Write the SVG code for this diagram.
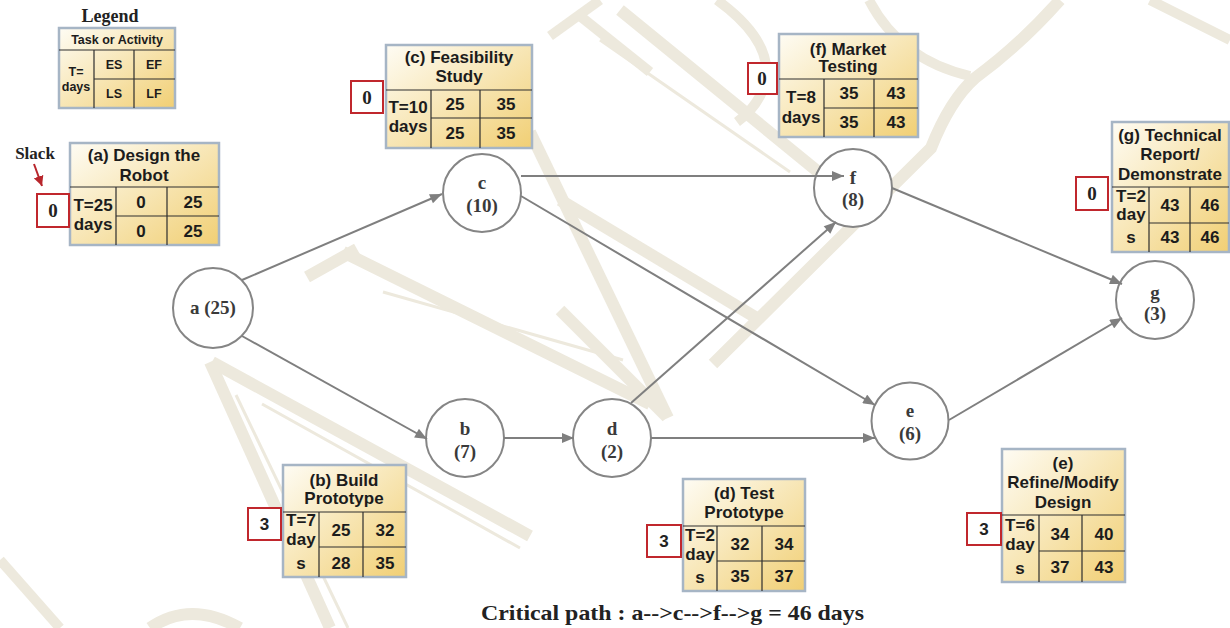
<svg xmlns="http://www.w3.org/2000/svg" width="1230" height="628" viewBox="0 0 1230 628">
  <defs>
    <linearGradient id="cellFill" x1="0" y1="0" x2="1" y2="1">
      <stop offset="0" stop-color="#fefcf4"/>
      <stop offset="0.45" stop-color="#f8e8bb"/>
      <stop offset="1" stop-color="#f1cf74"/>
    </linearGradient>
    <marker id="ah" viewBox="0 0 12 10" refX="12" refY="5" markerWidth="13" markerHeight="10" orient="auto" markerUnits="userSpaceOnUse">
      <path d="M0,0 L12,5 L0,10 z" fill="#7f7f7f"/>
    </marker>
    <marker id="redHead" viewBox="0 0 10 10" refX="10" refY="5" markerWidth="10" markerHeight="10" orient="auto" markerUnits="userSpaceOnUse">
      <path d="M0,0 L10,5 L0,10 z" fill="#b8262c"/>
    </marker>
  </defs>
  <style>
    .wm { fill: none; stroke: #ede9dd; stroke-linecap: butt; }
    .box { fill: url(#cellFill); stroke: #a6b5c5; stroke-width: 2.5; }
    .grid { stroke: #2e2e2e; stroke-width: 1.2; fill: none; }
    .t { font-family: "Liberation Sans", Arial, sans-serif; font-weight: bold; font-size: 17px; fill: #1c1c1c; text-anchor: middle; }
    .lg { font-family: "Liberation Sans", Arial, sans-serif; font-weight: bold; font-size: 12.5px; fill: #1c1c1c; text-anchor: middle; }
    .slack { fill: #ffffff; stroke: #c0272d; stroke-width: 2; }
    .sv { font-family: "Liberation Serif", "Times New Roman", serif; font-weight: bold; font-size: 19px; fill: #222; text-anchor: middle; }
    .ss { font-family: "Liberation Sans", Arial, sans-serif; font-weight: bold; font-size: 17px; fill: #222; text-anchor: middle; }
    .node { fill: #ffffff; stroke: #858585; stroke-width: 2; }
    .nl { font-family: "Liberation Serif", "Times New Roman", serif; font-weight: bold; font-size: 19px; fill: #3a3a3a; text-anchor: middle; }
    .edge { stroke: #7f7f7f; stroke-width: 2; fill: none; marker-end: url(#ah); }
    .serifb { font-family: "Liberation Serif", "Times New Roman", serif; font-weight: bold; fill: #222; }
  </style>

  <rect width="1230" height="628" fill="#ffffff"/>

  <!-- faint background lettering strokes -->
  <g id="watermark">
    <path class="wm" stroke-width="12" d="M210,362 L330,628"/>
    <path class="wm" stroke-width="3" d="M236,395 L348,628"/>
    <path class="wm" stroke-width="12" d="M212,362 L530,536"/>
    <path class="wm" stroke-width="3" d="M262,404 L520,548"/>
    <path class="wm" stroke-width="12" d="M307,277 L357,249"/>
    <path class="wm" stroke-width="12" d="M343,252 L650,404"/>
    <path class="wm" stroke-width="3" d="M383,292 L623,360"/>
    <path class="wm" stroke-width="12" d="M530,132 L668,418"/>
    <path class="wm" stroke-width="12" d="M560,310 L667,417"/>
    <path class="wm" stroke-width="12" d="M560,200 L760,320"/>
    <path class="wm" stroke-width="12" d="M620,10 L838,188"/>
    <path class="wm" stroke-width="3" d="M600,40 L790,172"/>
    <path class="wm" stroke-width="12" d="M713,364 L931,148 Q950,100 975,78 Q1020,45 1060,0"/>
    <path class="wm" stroke-width="10" d="M717,0 Q772,40 766,80 Q760,105 737,122"/>
    <path class="wm" stroke-width="10" d="M869,0 Q900,60 970,76"/>
    <path class="wm" stroke-width="10" d="M550,36 L600,0"/>
    <path class="wm" stroke-width="10" d="M580,16 L650,72"/>
    <path class="wm" stroke-width="10" d="M1150,0 L1230,40"/>
    <path class="wm" stroke-width="10" d="M0,560 L60,628"/>
    <path class="wm" stroke-width="12" d="M150,628 Q190,600 240,628"/>
  </g>

  <!-- legend -->
  <g id="legend">
    <text class="serifb" x="110" y="22" font-size="18" text-anchor="middle">Legend</text>
    <rect class="box" x="59" y="28" width="116" height="80"/>
    <path class="grid" d="M59,50 H175 M94,50 V108 M134,50 V108 M94,79 H175"/>
    <text class="lg" x="117" y="44">Task or Activity</text>
    <text class="lg" x="114" y="69">ES</text>
    <text class="lg" x="154" y="69">EF</text>
    <text class="lg" x="114" y="98">LS</text>
    <text class="lg" x="154" y="98">LF</text>
    <text class="lg" x="76" y="76">T=</text>
    <text class="lg" x="76" y="91">days</text>
  </g>

  <!-- slack pointer -->
  <g id="slack-label">
    <text class="serifb" x="35" y="159" font-size="17" text-anchor="middle">Slack</text>
    <line x1="34" y1="164" x2="42" y2="186" stroke="#b8262c" stroke-width="2" marker-end="url(#redHead)"/>
  </g>

  <!-- activity tables -->
  <g id="task-a">
    <rect class="box" x="70" y="143" width="149" height="102"/>
    <path class="grid" d="M70,187 H219 M116,187 V245 M167,187 V245 M116,216 H219"/>
    <text class="t" x="144" y="161">(a) Design the</text>
    <text class="t" x="144" y="181">Robot</text>
    <text class="t" x="93" y="211">T=25</text>
    <text class="t" x="93" y="230">days</text>
    <text class="t" x="141" y="208">0</text>
    <text class="t" x="193" y="208">25</text>
    <text class="t" x="141" y="237">0</text>
    <text class="t" x="193" y="237">25</text>
    <rect class="slack" x="37" y="194" width="32" height="33"/>
    <text class="sv" x="53" y="217">0</text>
  </g>

  <g id="task-c">
    <rect class="box" x="386" y="45" width="146" height="103"/>
    <path class="grid" d="M386,90 H532 M431,90 V148 M480,90 V148 M431,118 H532"/>
    <text class="t" x="459" y="63">(c) Feasibility</text>
    <text class="t" x="459" y="82">Study</text>
    <text class="t" x="408" y="113">T=10</text>
    <text class="t" x="408" y="132">days</text>
    <text class="t" x="455" y="110">25</text>
    <text class="t" x="506" y="110">35</text>
    <text class="t" x="455" y="139">25</text>
    <text class="t" x="506" y="139">35</text>
    <rect class="slack" x="351" y="81" width="32" height="32"/>
    <text class="sv" x="367" y="104">0</text>
  </g>

  <g id="task-f">
    <rect class="box" x="779" y="34" width="139" height="103"/>
    <path class="grid" d="M779,79 H918 M824,79 V137 M874,79 V137 M824,108 H918"/>
    <text class="t" x="848" y="55">(f) Market</text>
    <text class="t" x="848" y="72">Testing</text>
    <text class="t" x="801" y="103">T=8</text>
    <text class="t" x="801" y="123">days</text>
    <text class="t" x="849" y="99">35</text>
    <text class="t" x="896" y="99">43</text>
    <text class="t" x="849" y="128">35</text>
    <text class="t" x="896" y="128">43</text>
    <rect class="slack" x="748" y="63" width="29" height="31"/>
    <text class="sv" x="762" y="85">0</text>
  </g>

  <g id="task-g">
    <rect class="box" x="1112" y="122" width="117" height="130"/>
    <path class="grid" d="M1112,187 H1229 M1149,187 V252 M1190,187 V252 M1149,223 H1229"/>
    <text class="t" x="1170" y="141">(g) Technical</text>
    <text class="t" x="1170" y="160">Report/</text>
    <text class="t" x="1170" y="180">Demonstrate</text>
    <text class="t" x="1131" y="202">T=2</text>
    <text class="t" x="1131" y="220">day</text>
    <text class="t" x="1131" y="243">s</text>
    <text class="t" x="1170" y="211">43</text>
    <text class="t" x="1210" y="211">46</text>
    <text class="t" x="1170" y="243">43</text>
    <text class="t" x="1210" y="243">46</text>
    <rect class="slack" x="1076" y="177" width="32" height="33"/>
    <text class="sv" x="1092" y="200">0</text>
  </g>

  <g id="task-b">
    <rect class="box" x="283" y="465" width="123" height="112"/>
    <path class="grid" d="M283,512 H406 M319,512 V577 M363,512 V577 M319,547 H406"/>
    <text class="t" x="344" y="486">(b) Build</text>
    <text class="t" x="344" y="504">Prototype</text>
    <text class="t" x="301" y="526">T=7</text>
    <text class="t" x="301" y="545">day</text>
    <text class="t" x="301" y="569">s</text>
    <text class="t" x="341" y="536">25</text>
    <text class="t" x="385" y="536">32</text>
    <text class="t" x="341" y="569">28</text>
    <text class="t" x="385" y="569">35</text>
    <rect class="slack" x="248" y="508" width="33" height="32"/>
    <text class="ss" x="264.5" y="530">3</text>
  </g>

  <g id="task-d">
    <rect class="box" x="683" y="479" width="122" height="112"/>
    <path class="grid" d="M683,526 H805 M717,526 V591 M762,526 V591 M717,561 H805"/>
    <text class="t" x="744" y="499">(d) Test</text>
    <text class="t" x="744" y="518">Prototype</text>
    <text class="t" x="700" y="541">T=2</text>
    <text class="t" x="700" y="560">day</text>
    <text class="t" x="700" y="583">s</text>
    <text class="t" x="740" y="550">32</text>
    <text class="t" x="784" y="550">34</text>
    <text class="t" x="740" y="582">35</text>
    <text class="t" x="784" y="582">37</text>
    <rect class="slack" x="647" y="525" width="34" height="32"/>
    <text class="ss" x="664" y="547">3</text>
  </g>

  <g id="task-e">
    <rect class="box" x="1002" y="449" width="123" height="133"/>
    <path class="grid" d="M1002,515 H1125 M1039,515 V582 M1082,515 V582 M1039,551 H1125"/>
    <text class="t" x="1063" y="469">(e)</text>
    <text class="t" x="1063" y="488">Refine/Modify</text>
    <text class="t" x="1063" y="508">Design</text>
    <text class="t" x="1020" y="531">T=6</text>
    <text class="t" x="1020" y="550">day</text>
    <text class="t" x="1020" y="574">s</text>
    <text class="t" x="1060" y="540">34</text>
    <text class="t" x="1104" y="540">40</text>
    <text class="t" x="1060" y="573">37</text>
    <text class="t" x="1104" y="573">43</text>
    <rect class="slack" x="967" y="513" width="34" height="32"/>
    <text class="ss" x="984" y="535">3</text>
  </g>

  <!-- activity nodes -->
  <g id="node-a">
    <circle class="node" cx="213" cy="308" r="40"/>
    <text class="nl" x="213" y="314">a (25)</text>
  </g>
  <g id="node-c">
    <circle class="node" cx="482" cy="193" r="39"/>
    <text class="nl" x="482" y="189">c</text>
    <text class="nl" x="482" y="212">(10)</text>
  </g>
  <g id="node-b">
    <circle class="node" cx="465" cy="438" r="39"/>
    <text class="nl" x="465" y="435">b</text>
    <text class="nl" x="465" y="458">(7)</text>
  </g>
  <g id="node-d">
    <circle class="node" cx="612" cy="438" r="39"/>
    <text class="nl" x="612" y="435">d</text>
    <text class="nl" x="612" y="458">(2)</text>
  </g>
  <g id="node-f">
    <circle class="node" cx="853" cy="188" r="39"/>
    <text class="nl" x="853" y="184">f</text>
    <text class="nl" x="853" y="206">(8)</text>
  </g>
  <g id="node-e">
    <circle class="node" cx="910" cy="421" r="38.5"/>
    <text class="nl" x="910" y="417">e</text>
    <text class="nl" x="910" y="440">(6)</text>
  </g>
  <g id="node-g">
    <circle class="node" cx="1155" cy="300" r="39"/>
    <text class="nl" x="1155" y="299">g</text>
    <text class="nl" x="1155" y="320">(3)</text>
  </g>

  <!-- dependency arrows (drawn over the nodes so the c to f head shows inside f) -->
  <g id="connectors">
    <line class="edge" x1="242" y1="280" x2="442" y2="194"/>
    <line class="edge" x1="242" y1="336" x2="427" y2="439"/>
    <line class="edge" x1="504" y1="438" x2="574" y2="438"/>
    <line class="edge" x1="521" y1="176" x2="844" y2="176"/>
    <line class="edge" x1="521" y1="196" x2="875" y2="405"/>
    <line class="edge" x1="631" y1="403" x2="836" y2="222"/>
    <line class="edge" x1="651" y1="438" x2="875" y2="438"/>
    <line class="edge" x1="892" y1="188" x2="1122" y2="284"/>
    <line class="edge" x1="949" y1="420" x2="1122" y2="318"/>
  </g>

  <text class="serifb" x="481" y="620" font-size="22" textLength="383" lengthAdjust="spacingAndGlyphs">Critical path :  a--&gt;c--&gt;f--&gt;g = 46 days</text>
</svg>
